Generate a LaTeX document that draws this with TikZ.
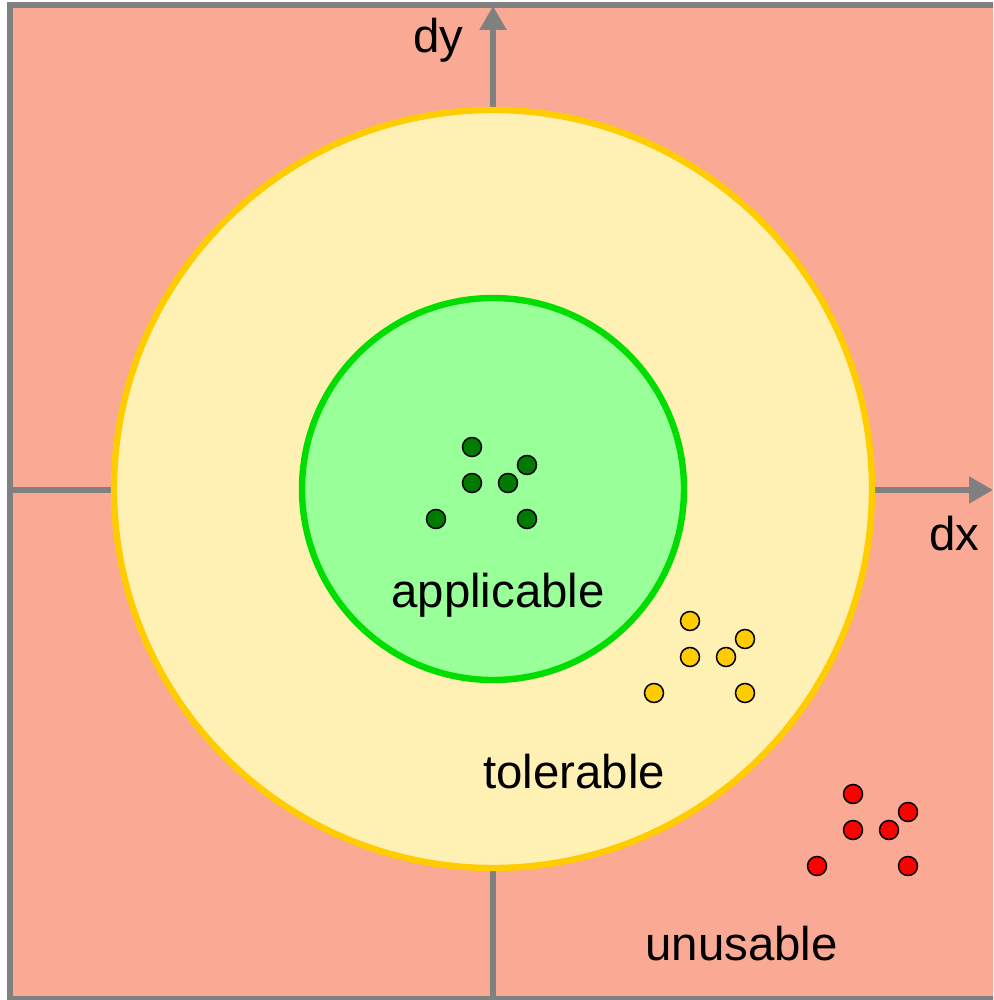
\documentclass[tikz,border=0pt]{standalone}
\usepackage{fontspec}
\setmainfont{Liberation Sans}
\usetikzlibrary{arrows.meta}
\definecolor{zonered}{HTML}{F9A994}
\definecolor{zoneyellow}{HTML}{FFF1B3}
\definecolor{ringyellow}{HTML}{FFCC00}
\definecolor{zonegreen}{HTML}{99FF99}
\definecolor{ringgreen}{HTML}{00DD00}
\definecolor{axisgray}{HTML}{808080}
\definecolor{dotgreen}{HTML}{007A00}
\definecolor{dotyellow}{HTML}{FFCC00}
\definecolor{dotred}{HTML}{FF0000}
\tikzset{
  axisline/.style={draw=axisgray, line width=2.6pt, -{Triangle[width=13pt,length=12pt]}},
  sample/.style={circle, draw=black, line width=0.75pt, minimum size=9.5pt, inner sep=0pt},
  label/.style={font=\fontsize{23.7pt}{28pt}\selectfont, inner sep=0pt, anchor=base west},
}
\begin{document}
\begin{tikzpicture}[x=0.5pt, y=-0.5pt]
  \useasboundingbox (0,0) rectangle (993,1000);
  \clip (0,0) rectangle (993,1000);

  % plane and frame
  \fill[zonered] (9.8,5) rectangle (1010,999);
  \draw[axisgray, line width=2.8pt] (1010,5) -- (9.8,5) -- (9.8,999) -- (1010,999);

  % axes
  \coordinate (xs) at (9.8,490);
  \coordinate (xe) at (993,490);
  \coordinate (ys) at (493,999);
  \coordinate (ye) at (493,6);
  \draw[axisline] (xs) -- (xe);
  \draw[axisline] (ys) -- (ye);

  % tolerance zones
  \fill[zoneyellow, draw=ringyellow, line width=3.2pt] (493,489) circle [radius=379];
  \fill[zonegreen, draw=ringgreen, line width=3.2pt] (493,489) circle [radius=191];

  % samples
  \foreach \dx/\dy [count=\i] in {472/447, 527/465, 472/483, 508/483, 436/519, 527/519} {
    \node[sample, fill=dotgreen] (g\i) at (\dx,\dy) {};
    \node[sample, fill=dotyellow] (y\i) at (\dx+218,\dy+174) {};
    \node[sample, fill=dotred] (r\i) at (\dx+381,\dy+347) {};
  }

  % labels
  \node[label] (ly) at (413,53) {dy};
  \node[label] (lx) at (929,550) {dx};
  \node[label] (la) at (391,607) {applicable};
  \node[label] (lt) at (483,788) {tolerable};
  \node[label] (lu) at (645,960) {unusable};
\end{tikzpicture}
\end{document}
